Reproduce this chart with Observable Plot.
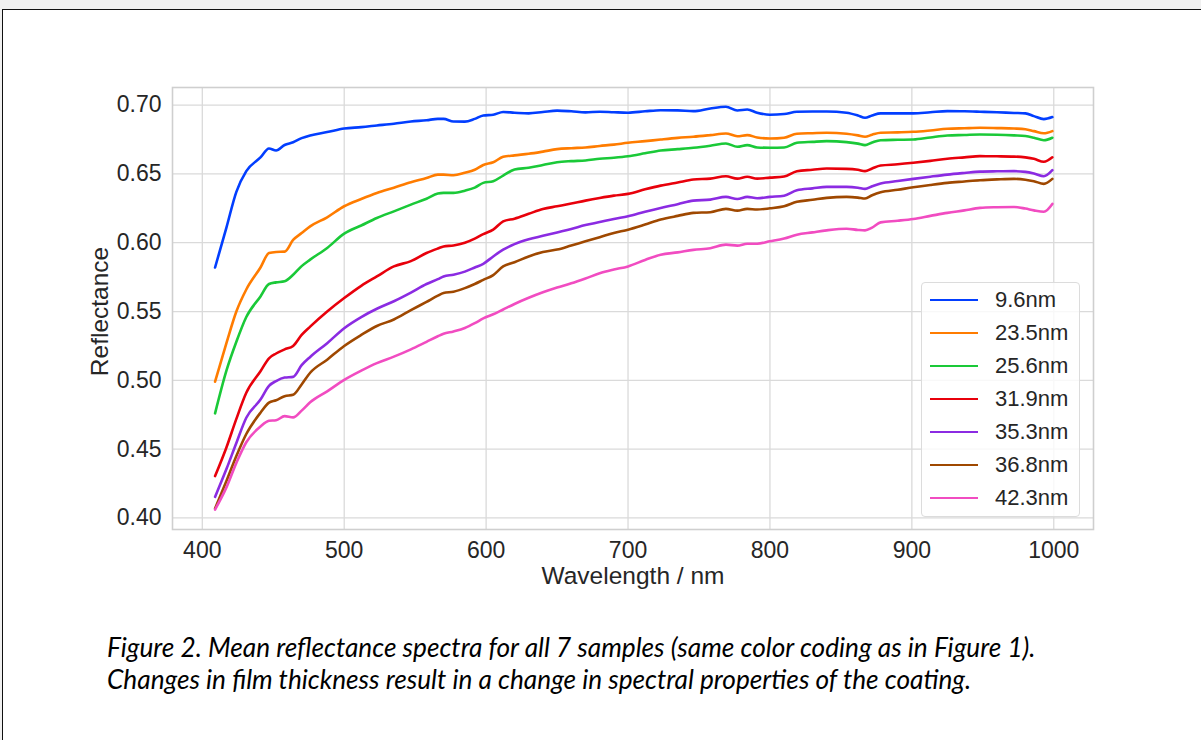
<!DOCTYPE html>
<html>
<head>
<meta charset="utf-8">
<script src="https://cdn.jsdelivr.net/npm/d3@7"></script>
<script src="https://cdn.jsdelivr.net/npm/@observablehq/plot@0.6"></script>
<style>
  html, body { margin: 0; padding: 0; }
  body { width: 1201px; height: 740px; background: #f0f0f0; position: relative; overflow: hidden; }
  #page { position: absolute; left: 2px; top: 9px; width: 1210px; height: 740px; border: 1px solid #111; background: #fff; }
  #chart { position: absolute; left: 0; top: 0; }
  #legend { position: absolute; left: 921px; top: 282px; width: 159px; height: 235px; box-sizing: border-box;
            border: 1px solid #dcdcdc; border-radius: 4px; background: rgba(255,255,255,0.8);
            font-family: "Liberation Sans", Arial, sans-serif; font-size: 22px; color: #262626; }
  .row { height: 33px; display: flex; align-items: center; }
  .sw { width: 48px; height: 0; border-top: 2px solid; margin-left: 8px; margin-right: 17px; }
  #caption { position: absolute; left: 107px; top: 631px; font-family: "Lato", "Open Sans", sans-serif;
             font-style: italic; color: #000; white-space: nowrap; line-height: 32px; }
</style>
</head>
<body>
<div id="page"></div>
<div id="chart"></div>
<div id="legend"></div>
<div id="caption"><div id="cap1">Figure 2. Mean reflectance spectra for all 7 samples (same color coding as in Figure 1).</div><div id="cap2">Changes in film thickness result in a change in spectral properties of the coating.</div></div>
<script>
const wavelength = [409,417,424,431,441,447,452,458,464,470,476,488,500,512,523,535,547,558,566,570,577,585,592,598,605,612,620,630,640,650,660,670,680,690,700,712,723,735,746,758,769,777,784,791,800,810,819,830,840,854,862,867,872,878,890,901,913,925,937,948,960,972,980,986,993,999];

const r9_6 = [0.582,0.611,0.637,0.652,0.662,0.6685,0.667,0.671,0.673,0.676,0.678,0.6804,0.683,0.684,0.6852,0.6865,0.6881,0.689,0.690,0.690,0.6881,0.688,0.690,0.6925,0.693,0.695,0.6945,0.694,0.695,0.696,0.6955,0.6947,0.6952,0.6948,0.6945,0.6955,0.6963,0.6962,0.6956,0.6976,0.6988,0.6961,0.6968,0.6945,0.693,0.6935,0.6952,0.6954,0.6954,0.6945,0.6925,0.6908,0.6925,0.694,0.694,0.694,0.6948,0.6956,0.6955,0.6952,0.6948,0.6943,0.694,0.692,0.6898,0.6913];
const r23_5 = [0.499,0.527,0.550,0.566,0.582,0.5925,0.5933,0.5935,0.602,0.607,0.6119,0.6185,0.6265,0.6318,0.6362,0.640,0.6439,0.647,0.6495,0.6495,0.649,0.6508,0.653,0.6565,0.6585,0.6624,0.6635,0.6646,0.6662,0.668,0.6687,0.6692,0.6703,0.6713,0.6726,0.6738,0.675,0.6762,0.677,0.6782,0.6794,0.6774,0.6782,0.6765,0.6757,0.6763,0.6792,0.6796,0.6799,0.6792,0.678,0.677,0.6785,0.6799,0.6802,0.6806,0.6816,0.6828,0.6832,0.6835,0.6833,0.683,0.6825,0.6811,0.6795,0.6811];
const r25_6 = [0.476,0.507,0.528,0.546,0.561,0.570,0.5712,0.572,0.5767,0.583,0.5877,0.5962,0.6066,0.6125,0.618,0.6228,0.6277,0.632,0.6358,0.6362,0.6362,0.6378,0.640,0.6435,0.6447,0.6488,0.6532,0.6545,0.6565,0.6585,0.6593,0.6598,0.661,0.6618,0.6629,0.665,0.667,0.668,0.669,0.6705,0.6721,0.6697,0.6709,0.6692,0.669,0.6692,0.6726,0.6733,0.6738,0.6731,0.672,0.6709,0.6728,0.6745,0.6748,0.675,0.6765,0.6779,0.6783,0.6787,0.6785,0.678,0.6775,0.6763,0.6745,0.6763];
const r31_9 = [0.4304,0.4512,0.472,0.491,0.5066,0.516,0.5195,0.5225,0.525,0.533,0.539,0.550,0.5598,0.5687,0.5755,0.5828,0.5866,0.5925,0.5958,0.5973,0.598,0.600,0.603,0.6062,0.6095,0.6155,0.6175,0.621,0.6245,0.6265,0.6285,0.6306,0.6325,0.6342,0.6355,0.6388,0.6415,0.6438,0.6459,0.6466,0.6483,0.6466,0.6479,0.6466,0.6473,0.6481,0.652,0.653,0.6539,0.6537,0.653,0.652,0.654,0.6561,0.657,0.6581,0.6595,0.661,0.662,0.6629,0.6628,0.6626,0.662,0.661,0.6588,0.6621];
const r35_3 = [0.4153,0.4355,0.4545,0.4728,0.486,0.496,0.4995,0.502,0.5025,0.511,0.517,0.527,0.5379,0.546,0.552,0.5575,0.5638,0.570,0.5735,0.5755,0.5768,0.579,0.582,0.5847,0.590,0.5949,0.599,0.6025,0.605,0.6075,0.610,0.6128,0.615,0.6173,0.6192,0.6225,0.6253,0.628,0.6306,0.6313,0.6333,0.6318,0.6333,0.6323,0.6333,0.6342,0.6381,0.6395,0.6406,0.6406,0.640,0.6391,0.641,0.643,0.6448,0.6464,0.648,0.6495,0.6507,0.6517,0.6519,0.652,0.6515,0.6503,0.6483,0.6527];
const r36_8 = [0.4069,0.4268,0.445,0.461,0.4765,0.4838,0.4855,0.4885,0.4895,0.497,0.5055,0.515,0.525,0.533,0.5395,0.5442,0.551,0.557,0.5615,0.5634,0.5644,0.567,0.570,0.573,0.5765,0.5828,0.5858,0.590,0.5932,0.595,0.598,0.601,0.604,0.6071,0.6095,0.6132,0.6168,0.6195,0.6217,0.6222,0.6246,0.6233,0.6246,0.6241,0.625,0.6265,0.6297,0.6312,0.6326,0.6333,0.6328,0.6321,0.6345,0.6367,0.6385,0.6403,0.642,0.6435,0.6445,0.6454,0.646,0.6464,0.6458,0.6447,0.6428,0.6464];
const r42_3 = [0.4061,0.4222,0.440,0.455,0.4665,0.4706,0.471,0.474,0.4731,0.478,0.484,0.492,0.5003,0.507,0.5125,0.5172,0.5225,0.528,0.532,0.5338,0.5355,0.538,0.5415,0.545,0.548,0.5515,0.5555,0.560,0.564,0.5675,0.5705,0.574,0.5778,0.5805,0.5828,0.5875,0.5913,0.593,0.5948,0.596,0.5986,0.5979,0.5993,0.5993,0.601,0.603,0.6058,0.6075,0.609,0.6102,0.6093,0.609,0.611,0.6148,0.616,0.6173,0.6195,0.6217,0.6235,0.6253,0.6258,0.626,0.6248,0.6235,0.6225,0.6282];

const seriesLabels = ["9.6nm","23.5nm","25.6nm","31.9nm","35.3nm","36.8nm","42.3nm"];
const seriesColors = ["#023eff","#ff7c00","#1ac938","#e8000b","#8b2be2","#9f4800","#f14cc1"];
const seriesValues = [r9_6, r23_5, r25_6, r31_9, r35_3, r36_8, r42_3];
const xTicks = [400,500,600,700,800,900,1000];
const yTicks = [0.40,0.45,0.50,0.55,0.60,0.65,0.70];

const data = seriesValues.flatMap((vals, i) => vals.map((r, j) => ({series: seriesLabels[i], w: wavelength[j], r})));

const chart = Plot.plot({
  width: 1201, height: 610,
  marginLeft: 172, marginRight: 108, marginTop: 87, marginBottom: 81,
  style: {fontFamily: "'Liberation Sans', Arial, sans-serif", fontSize: "23px", color: "#262626", background: "transparent", overflow: "visible"},
  x: {domain: [379, 1028]},
  y: {domain: [0.3916, 0.7128]},
  color: {domain: seriesLabels, range: seriesColors},
  marks: [
    Plot.gridX(xTicks, {stroke: "#dadada", strokeOpacity: 1, strokeWidth: 1.3}),
    Plot.gridY(yTicks, {stroke: "#dadada", strokeOpacity: 1, strokeWidth: 1.3}),
    Plot.frame({stroke: "#cfcfcf", strokeWidth: 1.6}),
    Plot.axisX(xTicks, {tickSize: 0, tickPadding: 12, fontSize: 23, label: null, tickFormat: d => String(d)}),
    Plot.axisY(yTicks, {tickSize: 0, tickPadding: 11, fontSize: 23, label: null, tickFormat: d => d.toFixed(2)}),
    Plot.lineY(data, {x: "w", y: "r", z: "series", stroke: "series", strokeWidth: 2.6, curve: "monotone-x"}),
    Plot.text(["Wavelength / nm"], {text: d => d, frameAnchor: "bottom", textAnchor: "middle", dy: 54, fontSize: 24.5, fill: "#262626"}),
    Plot.text(["Reflectance"], {text: d => d, frameAnchor: "left", textAnchor: "middle", rotate: -90, dx: -72, dy: 3, fontSize: 24.5, fill: "#262626"})
  ]
});
document.getElementById("chart").appendChild(chart);

const legend = document.getElementById("legend");
seriesLabels.forEach((lab, i) => {
  const row = document.createElement("div");
  row.className = "row";
  const sw = document.createElement("span");
  sw.className = "sw";
  sw.style.borderTopColor = seriesColors[i];
  const tx = document.createElement("span");
  tx.textContent = lab;
  row.appendChild(sw); row.appendChild(tx);
  legend.appendChild(row);
});

// fit caption font so line 1 spans the reference width
const cap = document.getElementById("caption");
cap.style.fontSize = "22px";
const w1 = document.getElementById("cap1").getBoundingClientRect().width;
cap.style.fontSize = (22 * 929 / w1).toFixed(2) + "px";
</script>
</body>
</html>
